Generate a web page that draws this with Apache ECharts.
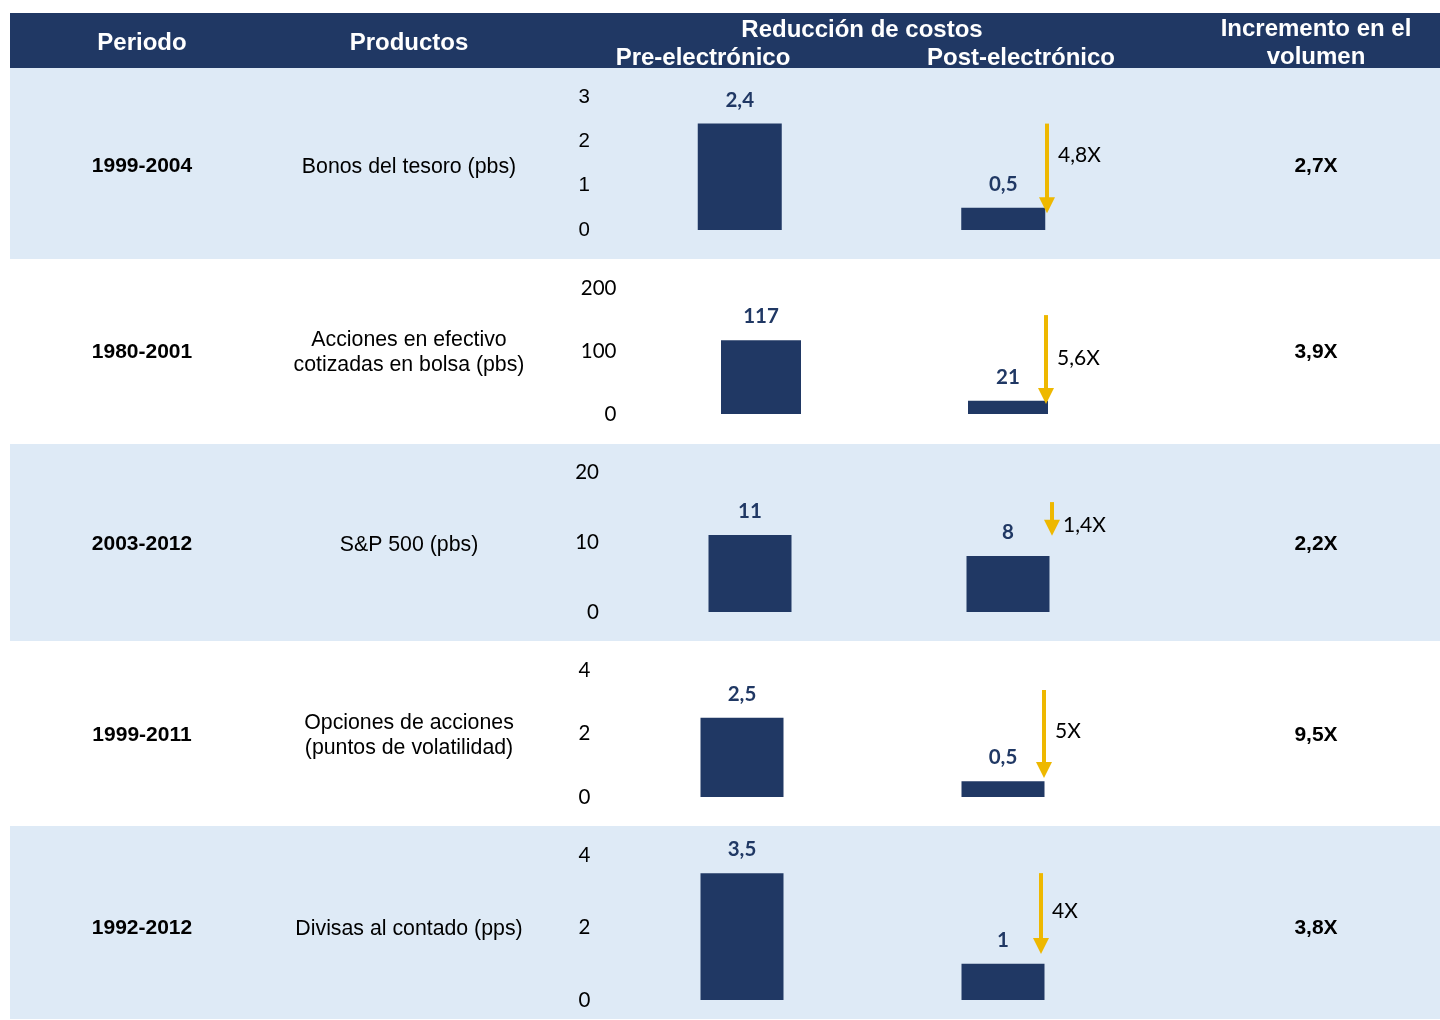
<!DOCTYPE html>
<html>
<head>
<meta charset="utf-8">
<script src="https://cdn.jsdelivr.net/npm/echarts@6/dist/echarts.min.js"></script>
<style>
html,body{margin:0;padding:0;background:#fff;}
#main{width:1440px;height:1020px;}
</style>
</head>
<body>
<div id="main"></div>
<script>
// ---- data ----
const periods = ['1999-2004', '1980-2001', '2003-2012', '1999-2011', '1992-2012'];
const products = ['Bonos del tesoro (pbs)', 'Acciones en efectivo\ncotizadas en bolsa (pbs)', 'S&P 500 (pbs)', 'Opciones de acciones\n(puntos de volatilidad)', 'Divisas al contado (pps)'];
const costStages = ['Pre-electrónico', 'Post-electrónico'];
const preValues = [2.4, 117, 11, 2.5, 3.5];
const postValues = [0.5, 21, 8, 0.5, 1];
const reductionLabels = ['4,8X', '5,6X', '1,4X', '5X', '4X'];
const arrowFrom = [2.4, 157, 15.7, 3.37, 3.5];
const arrowTo = [0.38, 16, 10.9, 0.6, 1.27];
const volumeIncrease = ['2,7X', '3,9X', '2,2X', '9,5X', '3,8X'];
const axisMax = [3, 200, 20, 4, 4];
const axisInterval = [1, 100, 10, 2, 2];
const headerTitles = ['Periodo', 'Productos', 'Reducción de costos', 'Incremento en el\nvolumen'];

// ---- layout ----
const NAVY = '#203864';
const GOLD = '#EEB800';
const LIGHT = '#DEEAF6';
const rowBounds = [68, 259, 444, 641, 826, 1019];
const rowTextY = [166, 352, 544, 735, 928];
const gridLayout = [
  {left: 608, width: 527, top: 97, height: 133},
  {left: 637.5, width: 494, top: 288, height: 126},
  {left: 621, width: 516, top: 472, height: 140},
  {left: 611.5, width: 522, top: 670, height: 127},
  {left: 611.5, width: 522, top: 855, height: 145}
];
const barWidths = [84, 80, 83, 83, 83];
const arrowShift = [2, -2, 2, -1, -4];
const arrowLabelNudge = [-13, -1, 6, -3, -2];
const yFonts = ['"Liberation Sans", Arial', 'Lato', 'Lato', 'Lato', 'Lato'];
const yMargins = [18, 21, 22, 21, 21];
const ARIAL = '"Liberation Sans", Arial, sans-serif';

const chart = echarts.init(document.getElementById('main'), null, {renderer: 'canvas'});

const graphic = [];
// row backgrounds
for (let i = 0; i < 5; i++) {
  if (i % 2 === 0) {
    graphic.push({type: 'rect', silent: true, z: -10,
      shape: {x: 10, y: rowBounds[i], width: 1430, height: rowBounds[i + 1] - rowBounds[i]},
      style: {fill: LIGHT}});
  }
}
// header
graphic.push({type: 'rect', silent: true, z: -10, shape: {x: 10, y: 13, width: 1430, height: 55}, style: {fill: NAVY}});
const hdrFont = {fill: '#fff', fontFamily: ARIAL, fontWeight: 'bold', fontSize: 24, align: 'center', verticalAlign: 'middle'};
graphic.push({type: 'text', style: Object.assign({text: headerTitles[0], x: 142, y: 43}, hdrFont)});
graphic.push({type: 'text', style: Object.assign({text: headerTitles[1], x: 409, y: 43}, hdrFont)});
graphic.push({type: 'text', style: Object.assign({text: headerTitles[2], x: 862, y: 30}, hdrFont)});
graphic.push({type: 'text', style: Object.assign({text: costStages[0], x: 703, y: 58}, hdrFont)});
graphic.push({type: 'text', style: Object.assign({text: costStages[1], x: 1021, y: 58}, hdrFont)});
graphic.push({type: 'text', style: Object.assign({text: headerTitles[3], x: 1316, y: 43, lineHeight: 28}, hdrFont)});

// table cells
for (let i = 0; i < 5; i++) {
  graphic.push({type: 'text', style: {text: periods[i], x: 142, y: rowTextY[i], fill: '#000', fontFamily: ARIAL, fontWeight: 'bold', fontSize: 21, align: 'center', verticalAlign: 'middle'}});
  graphic.push({type: 'text', style: {text: products[i], x: 409, y: rowTextY[i] + 1, fill: '#000', fontFamily: ARIAL, fontSize: 21.3, lineHeight: 25, align: 'center', verticalAlign: 'middle'}});
  graphic.push({type: 'text', style: {text: volumeIncrease[i], x: 1316, y: rowTextY[i], fill: '#000', fontFamily: ARIAL, fontWeight: 'bold', fontSize: 21, align: 'center', verticalAlign: 'middle'}});
}

const grids = [], xAxes = [], yAxes = [], series = [];
for (let i = 0; i < 5; i++) {
  grids.push(Object.assign({containLabel: false}, gridLayout[i]));
  xAxes.push({type: 'category', gridIndex: i, data: costStages, show: false, boundaryGap: true});
  yAxes.push({type: 'value', gridIndex: i, min: 0, max: axisMax[i], interval: axisInterval[i],
    axisLine: {show: false}, axisTick: {show: false}, splitLine: {show: false},
    axisLabel: {color: '#000', fontSize: 20.5, fontFamily: yFonts[i], margin: yMargins[i]}});
  series.push({type: 'bar', xAxisIndex: i, yAxisIndex: i, barWidth: barWidths[i],
    data: [preValues[i], postValues[i]],
    itemStyle: {color: NAVY},
    label: {show: true, position: 'top', distance: 13, color: NAVY, fontFamily: 'Lato', fontWeight: 'bold', fontSize: 20.5,
      formatter: p => String(p.value).replace('.', ',')},
    silent: true, animation: false});
  const label = reductionLabels[i];
  const bw = barWidths[i];
  const sh = arrowShift[i];
  const nudge = arrowLabelNudge[i];
  series.push({type: 'custom', xAxisIndex: i, yAxisIndex: i,
    data: [[1, arrowFrom[i], arrowTo[i]]],
    encode: {x: 0, y: [1, 2]},
    silent: true, animation: false, z: 5,
    renderItem: function (params, api) {
      const p0 = api.coord([api.value(0), api.value(1)]);
      const p1 = api.coord([api.value(0), api.value(2)]);
      const x = Math.round(p0[0] + bw / 2 + sh);
      const y0 = p0[1], y1 = p1[1];
      return {type: 'group', children: [
        {type: 'line', shape: {x1: x, y1: y0, x2: x, y2: y1 - 14}, style: {stroke: GOLD, lineWidth: 4}},
        {type: 'polygon', shape: {points: [[x - 8, y1 - 16], [x + 8, y1 - 16], [x, y1]]}, style: {fill: GOLD}},
        {type: 'text', style: {text: label, x: x + 11, y: (y0 + y1) / 2 + nudge, fill: '#000', fontFamily: 'Lato', fontSize: 21, align: 'left', verticalAlign: 'middle'}}
      ]};
    }});
}

chart.setOption({
  animation: false,
  backgroundColor: '#fff',
  grid: grids,
  xAxis: xAxes,
  yAxis: yAxes,
  series: series,
  graphic: graphic
});
</script>
</body>
</html>
